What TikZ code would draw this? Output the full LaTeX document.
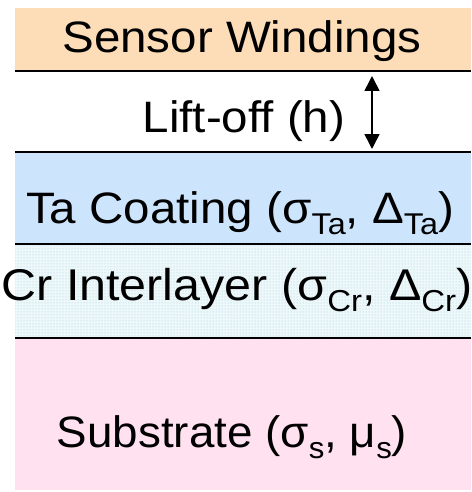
\documentclass[tikz,border=0pt]{standalone}
\usepackage{fontspec}
\setmainfont{Liberation Sans}
\usetikzlibrary{arrows.meta,patterns}

\definecolor{peach}{HTML}{FDDCB8}
\definecolor{coatblue}{HTML}{CCE4FC}
\definecolor{dotcyan}{HTML}{8FCFDC}
\definecolor{dotback}{HTML}{EEF8FA}
\definecolor{subpink}{HTML}{FFE1F0}

% lowered, smaller index text
\newcommand{\lsub}[1]{\raisebox{-0.25em}{\fontsize{30}{30}\selectfont #1}}
% slightly widened label text
\newcommand{\wide}[1]{\scalebox{1.08}[1]{#1}}

\begin{document}
\begin{tikzpicture}[x=1pt,y=-1pt,
  lbl/.style={font=\fontsize{44}{44}\selectfont, inner sep=0pt, anchor=base},
  sep/.style={line width=1.8pt, black},
  liftarrow/.style={line width=1.6pt, {Triangle[width=15pt,length=15pt]}-{Triangle[width=15pt,length=15pt]}}]

\useasboundingbox (0,0) rectangle (471,492);

% layer stack
\fill[peach] (15,8) rectangle (471,71);
\fill[coatblue] (15,152) rectangle (471,244);
\fill[dotback] (15,244) rectangle (471,338);
\fill[pattern=dots, pattern color=dotcyan] (15,244) rectangle (471,338);
\fill[subpink] (15,338) rectangle (471,490);

% interfaces
\draw[sep] (15,71) -- (471,71);
\draw[sep] (15,152) -- (471,152);
\draw[sep] (15,244) -- (471,244);
\draw[sep] (15,338) -- (471,338);

% labels
\node[lbl] (sensor) at (242,53) {\wide{Sensor Windings}};
\node[lbl] (lift) at (244,132) {\wide{Lift-off (h)}};
\node[lbl] (ta) at (240,223) {\wide{Ta Coating (σ\lsub{Ta}, Δ\lsub{Ta})}};
\node[lbl] (cr) at (237,300) {\scalebox{1.1}[1.01]{Cr Interlayer (σ\lsub{Cr}, Δ\lsub{Cr})}};
\node[lbl] (sub) at (232,447) {\scalebox{1.04}[1]{Substrate (σ\lsub{s}, μ\lsub{s})}};

% lift-off gap
\coordinate (gaptop) at (372,76);
\coordinate (gapbot) at (372,149);
\draw[liftarrow] (gaptop) -- (gapbot);

\end{tikzpicture}
\end{document}
